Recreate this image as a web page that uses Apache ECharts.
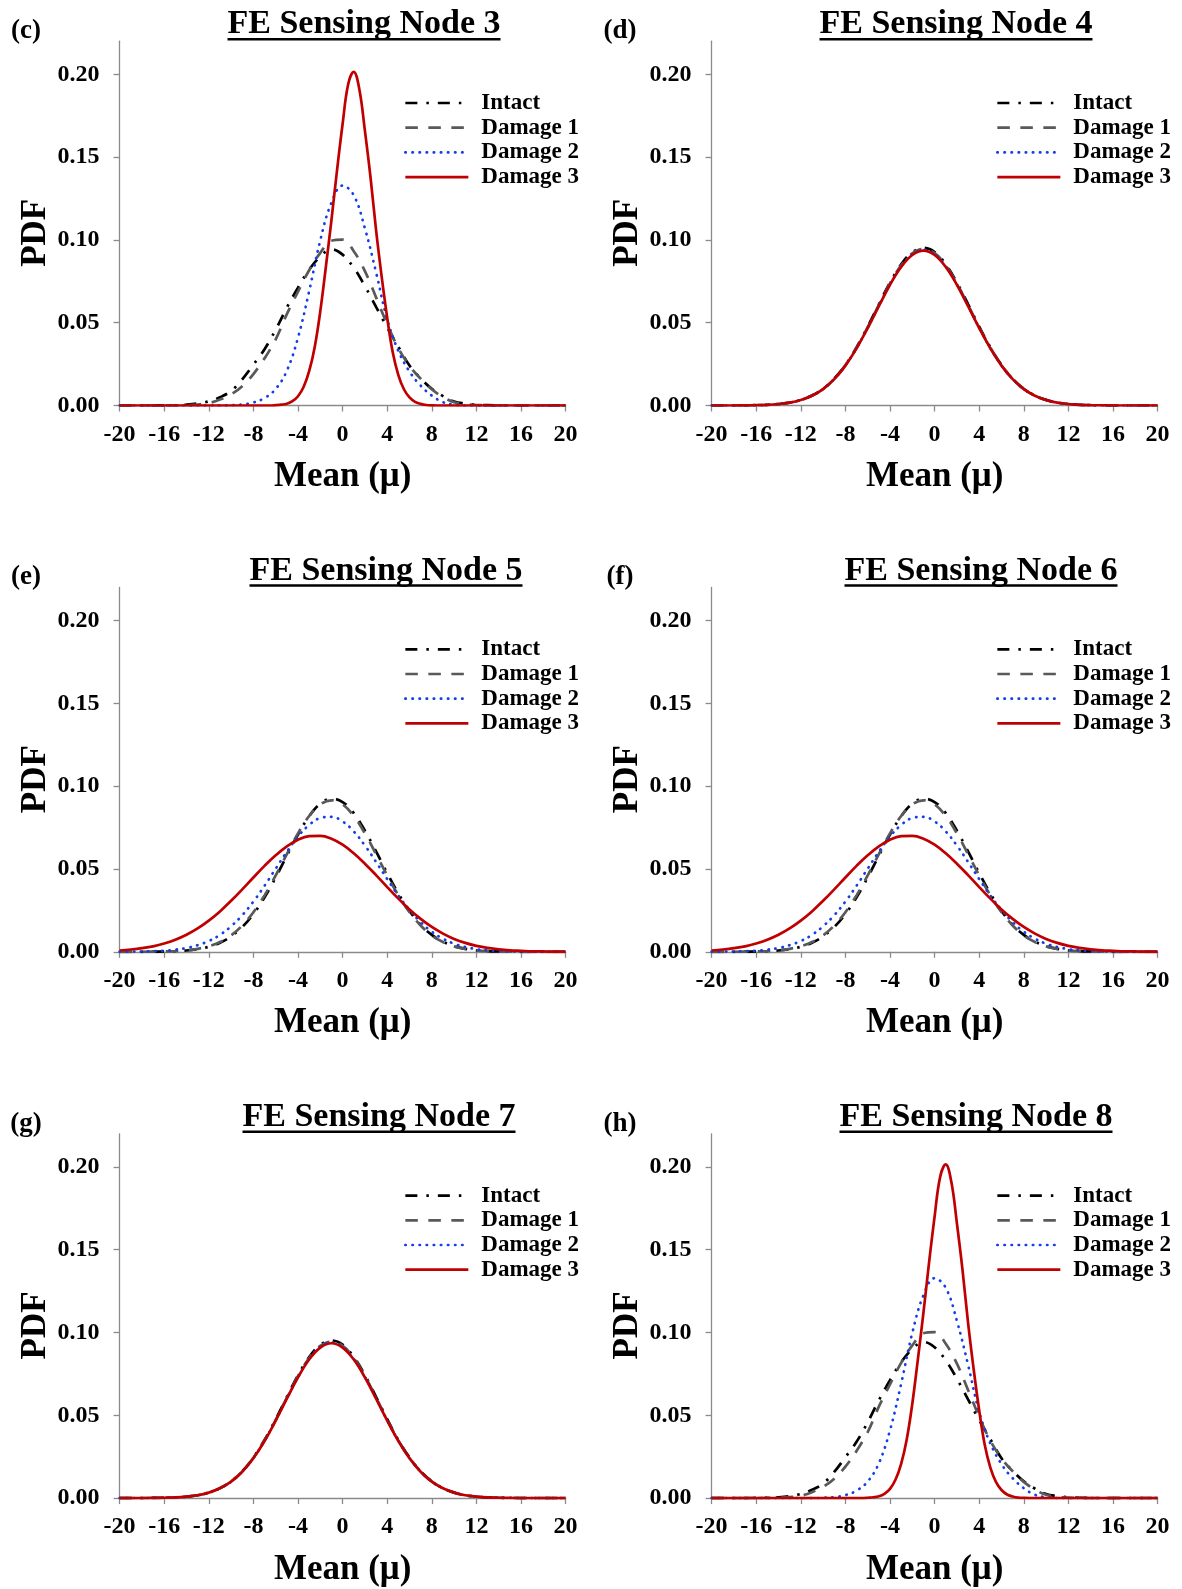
<!DOCTYPE html>
<html>
<head>
<meta charset="utf-8">
<title>FE Sensing Nodes - PDF of Mean</title>
<script src="https://cdn.jsdelivr.net/npm/echarts/dist/echarts.min.js"></script>
<style>
  html, body { margin: 0; padding: 0; background: #ffffff; }
  #chart { width: 1182px; height: 1589px; }
</style>
</head>
<body>
<div id="chart"></div>
<script>
// Sample points along the mean axis
const mu = [-20, -19, -18, -17, -16, -15, -14, -13, -12, -11,
            -10, -9, -8, -7, -6, -5, -4, -3, -2, -1,
            0, 1, 2, 3, 4, 5, 6, 7, 8, 9,
            10, 11, 12, 13, 14, 15, 16, 17, 18, 19, 20];
// Denser sampling around the sharp Damage 3 peak of nodes 3 / 8
const muFine = [-20, -14, -8, -7.5, -7, -6.5, -6, -5.5, -5, -4.5,
                -4, -3.5, -3, -2.5, -2, -1.5, -1, -0.5, 0, 0.5,
                1, 1.5, 2, 2.5, 3, 3.5, 4, 4.5, 5, 5.5,
                6, 6.5, 7, 7.5, 8, 8.5, 9, 9.5, 10, 14, 20];

const xTicks = [-20, -16, -12, -8, -4, 0, 4, 8, 12, 16, 20];
const yTicks = [0, 0.05, 0.10, 0.15, 0.20];

const seriesNames = ['Intact', 'Damage 1', 'Damage 2', 'Damage 3'];

// ---- FE sensing node 3 ----
const intact3 = [0, 0, 0, 0, 0.0001, 0.0002, 0.0005, 0.0012, 0.0025, 0.0050,
  0.0088, 0.0158, 0.0247, 0.0340, 0.0458, 0.0591, 0.0712, 0.0820, 0.0900, 0.0943,
  0.0911, 0.0832, 0.0721, 0.0596, 0.0471, 0.0355, 0.0241, 0.0164, 0.0101, 0.0057,
  0.0024, 0.0012, 0.0005, 0.0002, 0.0001, 0, 0, 0, 0, 0, 0];
const damage1_3 = [0, 0, 0, 0, 0, 0.0001, 0.0002, 0.0006, 0.0015, 0.0036,
  0.0068, 0.0117, 0.0190, 0.0285, 0.0399, 0.0552, 0.0687, 0.0817, 0.0922, 0.0995,
  0.1002, 0.0932, 0.0812, 0.0653, 0.0491, 0.0346, 0.0240, 0.0162, 0.0098, 0.0051,
  0.0020, 0.0008, 0.0003, 0.0001, 0, 0, 0, 0, 0, 0, 0];
const damage2_3 = [0, 0, 0, 0, 0, 0, 0, 0, 0, 0,
  0.0002, 0.0006, 0.0018, 0.0045, 0.0100, 0.0210, 0.0410, 0.0690, 0.0998, 0.1225,
  0.1328, 0.1270, 0.1070, 0.0805, 0.0520, 0.0330, 0.0205, 0.0120, 0.0060, 0.0020,
  0.0005, 0, 0, 0, 0, 0, 0, 0, 0, 0, 0];
// on muFine
const damage3_3 = [0, 0, 0, 0, 0, 0, 0.0002, 0.0005, 0.0011, 0.0026,
  0.0056, 0.0112, 0.0207, 0.0354, 0.0570, 0.0838, 0.1120, 0.1420, 0.1700, 0.1940,
  0.2015, 0.1910, 0.1660, 0.1380, 0.1060, 0.0780, 0.0530, 0.0320, 0.0184, 0.0098,
  0.0049, 0.0022, 0.0010, 0.0003, 0.0001, 0, 0, 0, 0, 0, 0];

// ---- FE sensing node 4 ----
const intact4 = [0, 0, 0, 0.0001, 0.0002, 0.0004, 0.0009, 0.0017, 0.0034, 0.0060,
  0.0101, 0.0162, 0.0245, 0.0351, 0.0476, 0.0611, 0.0742, 0.0852, 0.0925, 0.0952,
  0.0927, 0.0853, 0.0743, 0.0612, 0.0477, 0.0351, 0.0245, 0.0162, 0.0101, 0.0060,
  0.0034, 0.0017, 0.0009, 0.0004, 0.0002, 0.0001, 0, 0, 0, 0, 0];
const damage1_4 = [0, 0, 0, 0.0001, 0.0002, 0.0004, 0.0009, 0.0017, 0.0033, 0.0060,
  0.0100, 0.0161, 0.0244, 0.0349, 0.0473, 0.0607, 0.0737, 0.0846, 0.0919, 0.0945,
  0.0920, 0.0847, 0.0737, 0.0607, 0.0473, 0.0349, 0.0244, 0.0161, 0.0100, 0.0060,
  0.0033, 0.0017, 0.0009, 0.0004, 0.0002, 0.0001, 0, 0, 0, 0, 0];
const damage2_4 = [0, 0, 0, 0.0001, 0.0002, 0.0004, 0.0009, 0.0017, 0.0033, 0.0059,
  0.0099, 0.0160, 0.0242, 0.0347, 0.0470, 0.0603, 0.0733, 0.0841, 0.0914, 0.0940,
  0.0914, 0.0841, 0.0733, 0.0603, 0.0470, 0.0347, 0.0242, 0.0160, 0.0099, 0.0059,
  0.0033, 0.0017, 0.0009, 0.0004, 0.0002, 0.0001, 0, 0, 0, 0, 0];
const damage3_4 = [0, 0, 0, 0.0001, 0.0002, 0.0004, 0.0009, 0.0017, 0.0033, 0.0059,
  0.0099, 0.0159, 0.0241, 0.0345, 0.0468, 0.0600, 0.0729, 0.0837, 0.0909, 0.0935,
  0.0909, 0.0837, 0.0729, 0.0600, 0.0468, 0.0345, 0.0241, 0.0159, 0.0099, 0.0059,
  0.0033, 0.0017, 0.0009, 0.0004, 0.0002, 0.0001, 0, 0, 0, 0, 0];

// ---- FE sensing node 5 ----
const intact5 = [0, 0, 0, 0.0001, 0.0002, 0.0004, 0.0008, 0.0016, 0.0030, 0.0054,
  0.0093, 0.0150, 0.0228, 0.0329, 0.0449, 0.0580, 0.0708, 0.0818, 0.0894, 0.0925,
  0.0904, 0.0837, 0.0732, 0.0606, 0.0475, 0.0352, 0.0247, 0.0163, 0.0102, 0.0061,
  0.0034, 0.0018, 0.0009, 0.0004, 0.0002, 0.0001, 0, 0, 0, 0, 0];
const damage1_5 = [0, 0, 0, 0.0001, 0.0002, 0.0004, 0.0009, 0.0018, 0.0033, 0.0059,
  0.0099, 0.0159, 0.0239, 0.0341, 0.0461, 0.0590, 0.0715, 0.0820, 0.0890, 0.0915,
  0.0890, 0.0820, 0.0715, 0.0590, 0.0461, 0.0341, 0.0239, 0.0159, 0.0099, 0.0059,
  0.0033, 0.0018, 0.0009, 0.0004, 0.0002, 0.0001, 0, 0, 0, 0, 0];
const damage2_5 = [0, 0.0001, 0.0002, 0.0004, 0.0007, 0.0013, 0.0023, 0.0040, 0.0065, 0.0102,
  0.0154, 0.0221, 0.0303, 0.0399, 0.0502, 0.0604, 0.0696, 0.0766, 0.0808, 0.0815,
  0.0787, 0.0727, 0.0642, 0.0543, 0.0439, 0.0340, 0.0252, 0.0179, 0.0121, 0.0079,
  0.0049, 0.0029, 0.0016, 0.0009, 0.0005, 0.0002, 0.0001, 0, 0, 0, 0];
const damage3_5 = [0.0008, 0.0014, 0.0022, 0.0033, 0.0050, 0.0073, 0.0103, 0.0141, 0.0188, 0.0244,
  0.0308, 0.0377, 0.0449, 0.0519, 0.0583, 0.0637, 0.0677, 0.0698, 0.0700, 0.0683,
  0.0647, 0.0595, 0.0532, 0.0463, 0.0391, 0.0321, 0.0256, 0.0199, 0.0150, 0.0110,
  0.0078, 0.0054, 0.0036, 0.0024, 0.0015, 0.0009, 0.0006, 0.0003, 0.0002, 0.0001, 0.0001];

// Nodes 6, 7 and 8 sit symmetrically to nodes 5, 4 and 3 and share their curves.
const panelNodes = [3, 4, 5, 6, 7, 8];
const panelLetters = ['(c)', '(d)', '(e)', '(f)', '(g)', '(h)'];
const node3Curves = [[mu, intact3], [mu, damage1_3], [mu, damage2_3], [muFine, damage3_3]];
const node4Curves = [[mu, intact4], [mu, damage1_4], [mu, damage2_4], [mu, damage3_4]];
const node5Curves = [[mu, intact5], [mu, damage1_5], [mu, damage2_5], [mu, damage3_5]];
const curvesByNode = {
  3: node3Curves, 4: node4Curves, 5: node5Curves,
  6: node5Curves, 7: node4Curves, 8: node3Curves
};

// ---- styling & layout ----
const SERIF = '"Liberation Serif", "Times New Roman", Times, serif';
const AXIS_GREY = '#8a8a8a';
const LINE_W = 2.7;
const lineStyles = [
  { color: '#000000', type: [12, 9, 2.5, 9], cap: 'butt' },
  { color: '#595959', type: [12.5, 10.5], cap: 'butt' },
  { color: '#1040E6', type: [0.4, 6.7], cap: 'round' },
  { color: '#C00000', type: 'solid', cap: 'butt' }
];

const colLeft = [119.6, 711.6];
const rowTop = [41.2, 587.5, 1133.8];
const plotW = 446, plotH = 364.3;
const titleX = [364, 956, 386, 981, 379, 976];
const rowTitleY = [24.5, 570.8, 1117.1];
const letterX = [26, 620];
const rowLetterY = [31, 577.3, 1123.6];
const legendOffsetX = 284.4;
const legendOffsetY = 50.3;

const measureCtx = document.createElement('canvas').getContext('2d');
const TITLE_FONT = 'bold 34px ' + SERIF;
measureCtx.font = TITLE_FONT;

const grids = [], xAxes = [], yAxes = [], series = [], legends = [], graphics = [];

panelNodes.forEach((node, p) => {
  const col = p % 2, row = Math.floor(p / 2);
  const left = colLeft[col], top = rowTop[row];

  grids.push({ left: left, top: top, width: plotW, height: plotH, containLabel: false });

  xAxes.push({
    gridIndex: p, type: 'value', min: xTicks[0], max: xTicks[xTicks.length - 1], interval: 4,
    axisLine: { show: true, onZero: false, lineStyle: { color: AXIS_GREY, width: 1.3 } },
    axisTick: { show: true, length: 6, lineStyle: { color: AXIS_GREY, width: 1.3 } },
    axisLabel: { fontFamily: SERIF, fontWeight: 'bold', fontSize: 24, color: '#000', margin: 17,
                 formatter: v => String(v) },
    splitLine: { show: false },
    name: 'Mean (\u03bc)', nameLocation: 'middle', nameGap: 54,
    nameTextStyle: { fontFamily: SERIF, fontWeight: 'bold', fontSize: 35, color: '#000' }
  });

  yAxes.push({
    gridIndex: p, type: 'value', min: 0, max: 0.22, interval: 0.05,
    axisLine: { show: true, onZero: false, lineStyle: { color: AXIS_GREY, width: 1.3 } },
    axisTick: { show: true, length: 6, lineStyle: { color: AXIS_GREY, width: 1.3 }, customValues: yTicks },
    axisLabel: { fontFamily: SERIF, fontWeight: 'bold', fontSize: 24, color: '#000', margin: 20,
                 customValues: yTicks, formatter: v => v.toFixed(2) },
    splitLine: { show: false },
    name: 'PDF', nameLocation: 'middle', nameRotate: 90, nameGap: 62,
    nameTextStyle: { fontFamily: SERIF, fontWeight: 'bold', fontSize: 35, color: '#000', padding: [0, 19, 0, 0] }
  });

  curvesByNode[node].forEach(([xs, vals], k) => {
    const st = lineStyles[k];
    series.push({
      type: 'line', name: seriesNames[k], xAxisIndex: p, yAxisIndex: p,
      data: xs.map((x, i) => [x, vals[i]]),
      symbol: 'none', showSymbol: false, smooth: 0.4, silent: true,
      lineStyle: { color: st.color, width: LINE_W, type: st.type, cap: st.cap },
      itemStyle: { color: st.color },
      z: 2 + k
    });
  });

  legends.push({
    orient: 'vertical', left: left + legendOffsetX, top: top + legendOffsetY,
    padding: 0, itemWidth: 63, itemHeight: 14, itemGap: 1.7, selectedMode: false,
    data: seriesNames,
    itemStyle: { opacity: 0, borderWidth: 0 },
    lineStyle: { width: LINE_W },
    formatter: name => '{n|' + name + '}',
    textStyle: { fontFamily: SERIF, fontWeight: 'bold', fontSize: 23, color: '#000',
      rich: { n: { fontFamily: SERIF, fontWeight: 'bold', fontSize: 23, color: '#000', padding: [0, 0, 0, 8] } } }
  });

  const title = 'FE Sensing Node ' + node;
  const tw = measureCtx.measureText(title).width;
  const tx = titleX[p], ty = rowTitleY[row];
  graphics.push({
    type: 'text', x: tx, y: ty, silent: true,
    style: { text: title, font: TITLE_FONT, fill: '#000', textAlign: 'center', textVerticalAlign: 'middle' }
  });
  graphics.push({
    type: 'rect', silent: true,
    shape: { x: tx - tw / 2, y: ty + 13.5, width: tw, height: 2.4 },
    style: { fill: '#000' }
  });
  graphics.push({
    type: 'text', x: letterX[col], y: rowLetterY[row], silent: true,
    style: { text: panelLetters[p], font: 'bold 27px ' + SERIF, fill: '#000', textAlign: 'center', textVerticalAlign: 'middle' }
  });
});

const chart = echarts.init(document.getElementById('chart'), null, { renderer: 'canvas' });
chart.setOption({
  backgroundColor: '#ffffff',
  animation: false,
  grid: grids,
  xAxis: xAxes,
  yAxis: yAxes,
  legend: legends,
  series: series,
  graphic: graphics
});
</script>
</body>
</html>
